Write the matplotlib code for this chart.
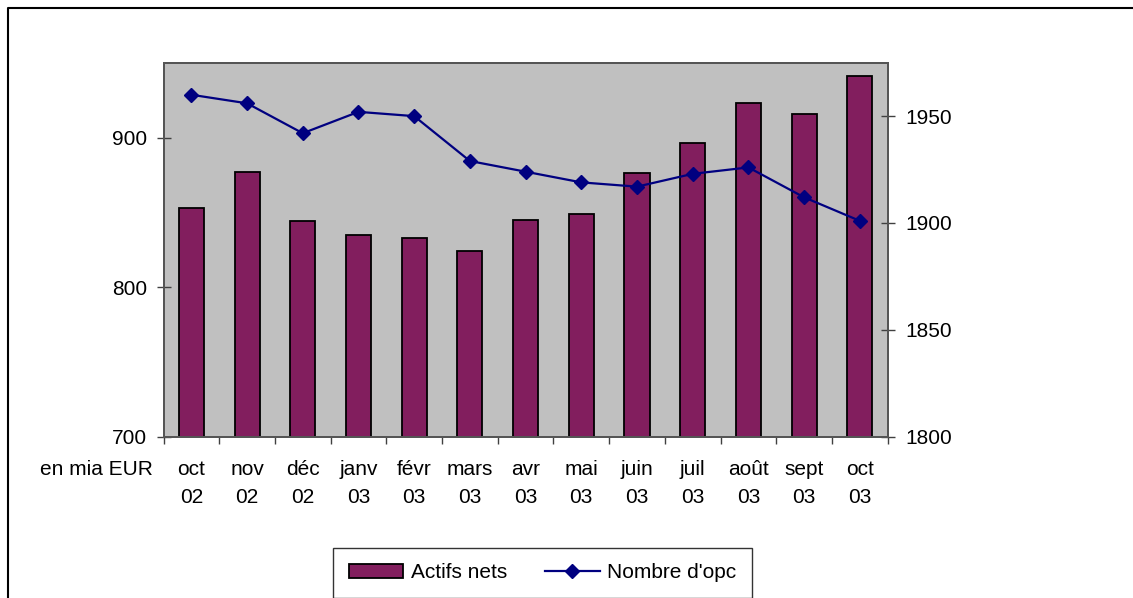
import matplotlib
matplotlib.use("Agg")
import matplotlib.pyplot as plt
from matplotlib.lines import Line2D
import numpy as np

plt.rcParams['font.family'] = ['Liberation Sans', 'DejaVu Sans']

months = ["oct\n02", "nov\n02", "déc\n02", "janv\n03", "févr\n03", "mars\n03", "avr\n03",
          "mai\n03", "juin\n03", "juil\n03", "août\n03", "sept\n03", "oct\n03"]
actifs_nets = [853, 877, 844, 835, 833, 824, 845, 849, 876, 896, 923, 916, 941]
nombre_opc = [1960, 1956, 1942, 1952, 1950, 1929, 1924, 1919, 1917, 1923, 1926, 1912, 1901]
left_ticks = [700, 800, 900]
right_ticks = [1800, 1850, 1900, 1950]

W, H = 1133, 598
fig = plt.figure(figsize=(W / 100, H / 100), dpi=100)
fig.patch.set_facecolor('white')

x0, x1 = 163.5, 887.7
y0, y1 = 62.7, 436.7
ax = fig.add_axes([x0 / W, 1 - y1 / H, (x1 - x0) / W, (y1 - y0) / H])
ax.set_facecolor('#C0C0C0')

x = np.arange(len(months))
bars = ax.bar(x, actifs_nets, width=0.45, color='#821E5E', edgecolor='black',
              linewidth=1.3, zorder=2, label='Actifs nets')
ax.set_xlim(-0.5, len(months) - 0.5)
ax.set_ylim(700, 950)
ax.set_yticks(left_ticks)
ax.set_yticklabels([str(v) for v in left_ticks])
ax.set_xticks(x)
ax.set_xticklabels(months)
ax.set_xticks(np.arange(-0.5, len(months), 1.0), minor=True)
ax.tick_params(axis='x', which='major', length=0, pad=17, labelsize=15)
ax.tick_params(axis='x', which='minor', direction='out', length=5, width=1, color='#404040')
ax.tick_params(axis='y', direction='inout', length=9.5, width=1, color='#404040',
               pad=7, labelsize=15)
for lbl in ax.get_xticklabels():
    lbl.set_linespacing(1.6)

ax2 = ax.twinx()
ax2.set_facecolor('none')
line, = ax2.plot(x, nombre_opc, color='#000080', linewidth=1.6, marker='D',
                 markersize=7.5, markerfacecolor='#000080', markeredgecolor='#000080',
                 zorder=3, label="Nombre d'opc")
ax2.set_ylim(1800, 1975)
ax2.set_yticks(right_ticks)
ax2.set_yticklabels([str(v) for v in right_ticks])
ax2.tick_params(axis='y', direction='inout', length=9.5, width=1, color='#404040',
                pad=8, labelsize=15)

for a in (ax, ax2):
    for s in a.spines.values():
        s.set_color('#555555')
        s.set_linewidth(1.4)

fig.text(40 / W, 1 - 475 / H, "en mia EUR", fontsize=15, ha='left', va='baseline')

leg = fig.legend(handles=[bars, line], labels=['Actifs nets', "Nombre d'opc"],
                 loc='center', bbox_to_anchor=(542.5 / W, 1 - 573 / H), ncol=2,
                 fontsize=15, frameon=True, fancybox=False, edgecolor='black',
                 borderpad=0.75, handlelength=2.6, handletextpad=0.35,
                 columnspacing=1.85, handleheight=0.65)
leg.get_frame().set_linewidth(1.0)

# outer frame
fig.add_artist(Line2D([8 / W, 8 / W, 1.0], [0.0, 1 - 8 / H, 1 - 8 / H],
                      transform=fig.transFigure, color='black', linewidth=1.5))

fig.savefig('out.png', dpi=100)
